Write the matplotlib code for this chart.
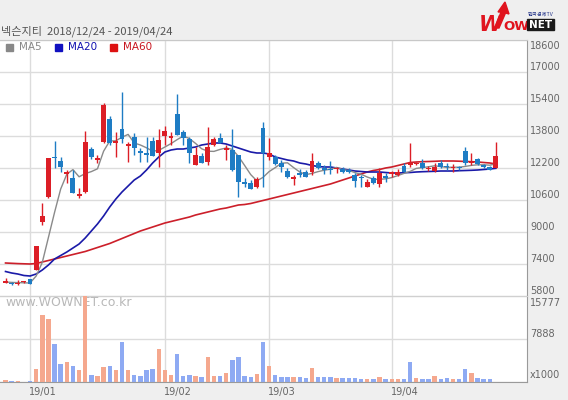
import numpy as np
import pandas as pd
import matplotlib
matplotlib.use('Agg')
import matplotlib.pyplot as plt
from matplotlib.patches import Rectangle, Polygon

# ---------------- data ----------------
title = '넥슨지티  2018/12/24 - 2019/04/24'
holidays = ['2018-12-25', '2018-12-31', '2019-01-01', '2019-02-04',
            '2019-02-05', '2019-02-06', '2019-03-01']
dates = [d for d in pd.bdate_range('2018-12-24', '2019-04-24')
         if d.strftime('%Y-%m-%d') not in holidays]

opens = [6450, 6450, 6400, 6500, 6650, 7100, 9500, 10750, 12750, 12550,
         11900, 11700, 10800, 11000, 13150, 12600, 13500, 14650, 13450, 14150,
         13300, 13750, 13050, 12950, 13550, 12950, 13800, 13700, 14900, 14000,
         13650, 12350, 12800, 12500, 13350, 13700, 13100, 13100, 12850, 11500,
         11450, 11250, 14200, 12750, 12750, 12450, 12050, 11650, 11950, 12000,
         12000, 12450, 12200, 12150, 12150, 12150, 12100, 11850, 11750, 11250,
         11700, 11400, 11800, 11900, 11850, 12300, 12350, 12400, 12450, 12150,
         12050, 12450, 12300, 12200, 12250, 13050, 12450, 12650, 12350, 12250,
         12200]
highs = [6700, 6500, 6600, 6550, 6650, 8300, 10450, 12700, 13550, 12750,
         12100, 12100, 11200, 14050, 13250, 12850, 15450, 14800, 14000, 16000,
         13500, 13950, 13200, 13750, 13750, 14150, 14300, 14000, 15900, 14100,
         13750, 13250, 12950, 14250, 13750, 13950, 13350, 14150, 12850, 11700,
         11600, 11750, 14500, 13700, 12850, 12600, 12200, 11850, 12150, 12100,
         12950, 12550, 12350, 12550, 12250, 12250, 12200, 11950, 11850, 11650,
         11800, 12200, 11950, 12050, 12150, 12450, 13450, 12500, 12650, 12300,
         12450, 12600, 12450, 12400, 12300, 13250, 12950, 12700, 12400, 12300,
         13500]
lows = [6450, 6350, 6350, 6450, 6400, 7100, 9350, 10700, 12200, 12000,
        11450, 10950, 10700, 10950, 12650, 12450, 13450, 13350, 12750, 13450,
        12500, 12850, 12500, 12500, 12800, 12250, 13350, 13350, 13850, 13350,
        12450, 12350, 12450, 12350, 13300, 13450, 12600, 12050, 10750, 11250,
        11150, 11200, 11250, 12600, 12350, 12000, 11700, 11350, 11750, 11750,
        11850, 12150, 11900, 11900, 11950, 11950, 11950, 11250, 11250, 11250,
        11400, 11250, 11500, 11750, 11800, 12000, 12250, 12350, 12150, 12050,
        12000, 12200, 12100, 12000, 12100, 12350, 12350, 12350, 12200, 12100,
        12200]
closes = [6550, 6400, 6450, 6500, 6400, 8300, 9800, 12700, 12700, 12250,
          12000, 10950, 10900, 13500, 12750, 12700, 15350, 13450, 13550, 13650,
          13400, 13200, 12950, 12850, 12800, 13600, 14050, 13800, 13850, 13700,
          12950, 12850, 12450, 13250, 13650, 13450, 13200, 12100, 11500, 11400,
          11150, 11650, 12950, 12950, 12400, 12250, 11750, 11750, 11850, 11750,
          12550, 12200, 12100, 12100, 12200, 12000, 12000, 11550, 11700, 11500,
          11450, 11950, 11700, 12000, 12000, 12000, 12450, 12450, 12200, 12200,
          12250, 12250, 12250, 12250, 12200, 12450, 12500, 12400, 12250, 12100,
          12800]
ma5 = [6500, 6480, 6470, 6460, 6450, 6800, 7480, 8730, 9980, 11150,
       11890, 12120, 11760, 11920, 12020, 12160, 13040, 13550, 13560, 13740,
       13880, 13450, 13350, 13210, 13040, 13080, 13250, 13420, 13620, 13800,
       13670, 13430, 13160, 13040, 13030, 13130, 13200, 13130, 12780, 12330,
       11870, 11560, 11730, 12020, 12220, 12440, 12460, 12220, 12000, 11870,
       11930, 12020, 12090, 12140, 12230, 12120, 12080, 11970, 11890, 11750,
       11640, 11630, 11660, 11720, 11820, 11930, 12030, 12180, 12220, 12260,
       12310, 12270, 12230, 12240, 12240, 12280, 12330, 12360, 12360, 12340,
       12410]
ma20 = [7025, 6950, 6900, 6825, 6800, 6900, 7100, 7350, 7650, 7825,
        8000, 8200, 8400, 8700, 9050, 9400, 9800, 10250, 10650, 11000,
        11300, 11600, 11800, 12100, 12450, 12750, 13000, 13100, 13150, 13150,
        13200, 13250, 13350, 13400, 13450, 13450, 13400, 13300, 13200, 13100,
        13000, 12950, 12950, 12900, 12750, 12675, 12600, 12550, 12450, 12400,
        12325, 12275, 12250, 12250, 12200, 12150, 12100, 12050, 12025, 12000,
        12000, 12000, 11975, 11950, 11950, 11965, 11975, 12000, 12015, 12025,
        12035, 12050, 12050, 12050, 12065, 12075, 12085, 12100, 12125, 12150,
        12185]
ma60 = [7450, 7435, 7420, 7410, 7400, 7425, 7500, 7575, 7650, 7725,
        7800, 7875, 7950, 8025, 8125, 8225, 8325, 8425, 8550, 8675,
        8800, 8925, 9050, 9150, 9250, 9350, 9450, 9525, 9600, 9675,
        9750, 9850, 9925, 10000, 10075, 10150, 10200, 10275, 10350, 10375,
        10425, 10500, 10575, 10650, 10725, 10800, 10875, 10950, 11025, 11100,
        11175, 11250, 11325, 11400, 11500, 11600, 11700, 11800, 11900, 12000,
        12075, 12125, 12200, 12250, 12325, 12400, 12475, 12500, 12515, 12525,
        12535, 12550, 12550, 12550, 12540, 12525, 12515, 12500, 12475, 12450,
        12400]
volumes = [370, 180, 150, 0, 150, 2440, 12350, 11620, 7030, 3360,
           3730, 2990, 2260, 15777, 1340, 1160, 2800, 2990, 2260, 7270,
           2130, 1340, 1160, 2130, 2310, 6110, 2130, 1340, 5190, 1160,
           1340, 1160, 850, 4640, 1160, 1160, 1710, 4090, 4640, 1160,
           850, 1520, 7270, 2990, 1340, 850, 920, 850, 850, 660,
           2620, 920, 850, 970, 790, 660, 790, 790, 550, 600,
           500, 970, 600, 500, 600, 600, 3730, 790, 600, 600,
           1160, 600, 790, 600, 600, 2440, 1710, 790, 600, 600,
           0]
vol_up = [1, 0, 1, 0, 0, 1, 1, 1, 0, 0,
          1, 0, 1, 1, 0, 1, 1, 0, 1, 0,
          1, 0, 0, 0, 0, 1, 1, 1, 0, 0,
          0, 1, 0, 1, 1, 0, 1, 0, 0, 0,
          0, 1, 0, 1, 0, 0, 0, 1, 0, 0,
          1, 0, 0, 0, 1, 0, 0, 0, 0, 1,
          0, 1, 0, 1, 1, 0, 0, 1, 0, 0,
          1, 0, 0, 1, 0, 0, 1, 0, 0, 0,
          1]
price_ticks = [5800, 7400, 9000, 10600, 12200, 13800, 15400, 17000, 18600]
vol_ticks = [0, 7888, 15777]
vol_labels = ['x1000', '7888', '15777']
month_labels = ['19/01', '19/02', '19/03', '19/04']

# ---------------- styling ----------------
W, H = 568, 400
BG = '#efefef'
RED, BLUE = '#dc1e26', '#1e7cc4'
VRED, VBLUE = '#f5a88e', '#8eaaf3'
C5, C20, C60 = '#8a8a8a', '#1a1aa8', '#cc1f2a'
GRID = '#dcdcdc'
LBL = '#666666'

opens_a, closes_a = np.array(opens), np.array(closes)
x = np.arange(len(dates))
up = closes_a >= opens_a
cols = np.where(up, RED, BLUE)
month_idx = []
for m in [1, 2, 3, 4]:
    month_idx.append(next(i for i, d in enumerate(dates) if d.year == 2019 and d.month == m))

fig = plt.figure(figsize=(W / 100, H / 100), dpi=100, facecolor=BG)
ax = fig.add_axes([0, 104 / H, 527 / W, 256 / H])
axv = fig.add_axes([0, 18 / H, 527 / W, 86 / H])

xlim = (-0.9, 85.07)
for a in (ax, axv):
    a.set_facecolor('white')
    a.set_xlim(*xlim)
    a.set_xticks(month_idx)
    a.tick_params(length=0, labelleft=False, labelbottom=False)
    a.grid(True, color=GRID, lw=1)
    a.set_axisbelow(True)
    a.spines['left'].set_visible(False)
    a.spines['right'].set_color('#9a9a9a')

ax.set_ylim(5800, 18600)
ax.set_yticks(price_ticks)
ax.spines['top'].set_color('#c8c8c8')
ax.spines['bottom'].set_visible(False)

axv.set_ylim(0, 15777)
axv.set_yticks(vol_ticks)
axv.spines['top'].set_color('#d0d0d0')
axv.spines['bottom'].set_color('#9a9a9a')

# moving averages
ax.plot(x, ma60, color=C60, lw=1.2, zorder=2)
ax.plot(x, ma20, color=C20, lw=1.2, zorder=2)
ax.plot(x, ma5, color=C5, lw=1.0, zorder=2)

# candles
ax.vlines(x, lows, highs, colors=cols, lw=1, zorder=3)
bottoms = np.minimum(opens_a, closes_a)
heights = np.maximum(np.abs(closes_a - opens_a), 45)
ax.bar(x, heights, bottom=bottoms, width=0.8, color=cols, lw=0, zorder=4)

# volume
axv.bar(x, volumes, width=0.72, color=[VRED if u else VBLUE for u in vol_up], lw=0, zorder=3)
axv.text(5 / 527, 0.93, 'www.WOWNET.co.kr', transform=axv.transAxes, fontsize=9,
         color='#b8b8b8', ha='left', va='center', zorder=2)

# right-side labels
for p in price_ticks:
    if p == 18600:
        va, off = 'top', -1
    else:
        va, off = 'baseline', 2
    ax.annotate(f'{p}', xy=(1, p), xycoords=('axes fraction', 'data'), xytext=(3, off),
                textcoords='offset pixels', ha='left', va=va, fontsize=7, color=LBL,
                annotation_clip=False)
for v, lab in zip(vol_ticks, vol_labels):
    if v == 15777:
        va, off = 'top', -2
    elif v == 0:
        va, off = 'baseline', 4
    else:
        va, off = 'baseline', 2
    axv.annotate(lab, xy=(1, v), xycoords=('axes fraction', 'data'), xytext=(3, off),
                 textcoords='offset pixels', ha='left', va=va, fontsize=7, color=LBL,
                 annotation_clip=False)

# x labels
for i, lab in zip(month_idx, month_labels):
    axv.annotate(lab, xy=(i, 0), xycoords=('data', 'axes fraction'), xytext=(-1, -12.5),
                 textcoords='offset pixels', ha='left', va='baseline', fontsize=7,
                 color=LBL, annotation_clip=False)

# title
fig.text(1 / W, 1 - 31.5 / H, title, family=['Noto Sans CJK KR', 'DejaVu Sans'],
         fontsize=8, color='#555555', ha='left', va='center')

# legend
for sx, tx, lab, c, tc in [(6, 19, 'MA5', '#888888', '#888888'),
                           (55, 68, 'MA20', '#1010c0', '#1010b0'),
                           (110, 123, 'MA60', '#dd1111', '#c8141e')]:
    fig.patches.append(Rectangle((sx / W, 1 - 50.5 / H), 7 / W, 7 / H,
                                 transform=fig.transFigure, color=c, zorder=5))
    fig.text(tx / W, 1 - 47 / H, lab, fontsize=7.5, color=tc, ha='left', va='center', zorder=5)

# logo
fig.patches.append(Polygon([(495 / W, 1 - 28 / H), (501 / W, 1 - 12 / H), (498 / W, 1 - 12 / H),
                            (505 / W, 1 - 2 / H), (509 / W, 1 - 14 / H), (505.5 / W, 1 - 13 / H),
                            (499 / W, 1 - 28 / H)], closed=True, transform=fig.transFigure,
                           color='#e0141e', zorder=5))
fig.text(479 / W, 1 - 31 / H, 'W', fontsize=15, fontweight='bold', style='italic',
         color='#e0141e', ha='left', va='baseline')
fig.text(503 / W, 1 - 30 / H, 'OW', fontsize=9.5, fontweight='bold',
         color='#e0141e', ha='left', va='baseline')
fig.patches.append(Rectangle((527 / W, 1 - 30 / H), 27 / W, 11 / H,
                             transform=fig.transFigure, color='#1a1a1a', zorder=5))
fig.text(540.5 / W, 1 - 24.5 / H, 'NET', fontsize=7.5, fontweight='bold',
         color='white', ha='center', va='center', zorder=6)
fig.text(540.5 / W, 1 - 14 / H, '한국경제TV', family=['Noto Sans CJK KR', 'DejaVu Sans'],
         fontsize=3.8, color='#223388', ha='center', va='center', zorder=6)

fig.savefig('out.png', dpi=100, facecolor=BG)
